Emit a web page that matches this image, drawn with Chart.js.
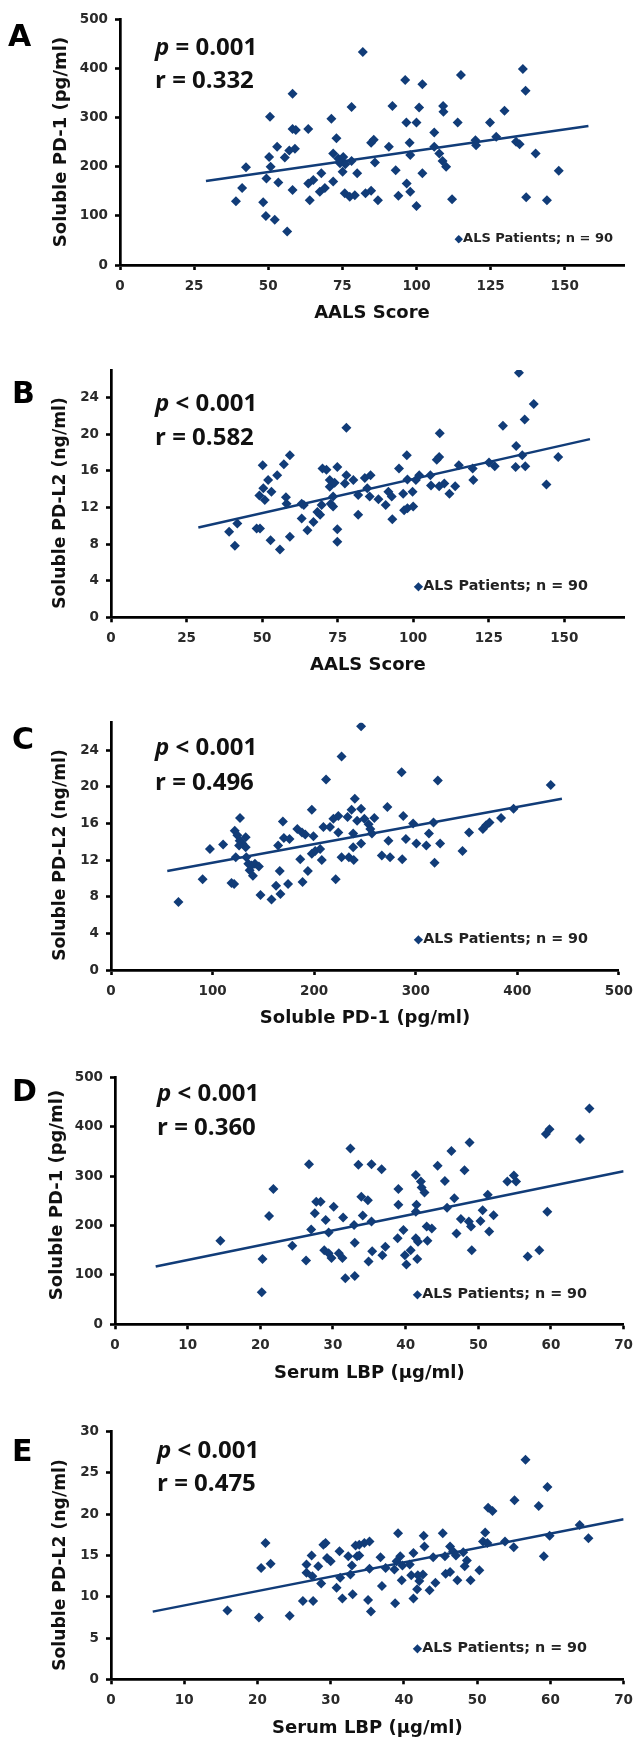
<!DOCTYPE html>
<html><head><meta charset="utf-8">
<script src="https://cdn.jsdelivr.net/npm/chart.js@4.4.1/dist/chart.umd.min.js"></script>
<style>
html,body{margin:0;padding:0;background:#fff;}
#wrap{position:relative;width:641px;height:1741px;overflow:hidden;background:#fff;}
#wrap canvas{position:absolute;left:0;}
.ov{position:absolute;white-space:nowrap;line-height:1;z-index:5;}
.letter{font-family:"DejaVu Sans";font-weight:bold;color:#000;font-size:30px;}
.stat{font-family:"Open Sans";font-weight:bold;color:#111;font-size:24px;}
.ytitle{font-family:"DejaVu Sans";font-weight:bold;color:#111;transform:translate(-50%,-50%) rotate(-90deg);}
.leg{font-family:"DejaVu Sans";font-weight:bold;color:#222;}
.leg span{color:#113c78;font-size:0.85em;}
</style></head>
<body><div id="wrap"></div>
<script>
// ---------- DATA ----------
const aX = [39.1,41.2,42.5,48.3,50.6,50.3,50.8,49.4,49.2,52.2,53,53.4,55.6,56.4,58.2,58.2,59.3,57.1,59,58.2,63.5,63.5,65.2,64,67.9,67.4,69.1,71.3,73,71.9,71.9,73.6,74.2,75.3,75.1,78.1,78.1,75.8,77.5,79.2,80,76,81.9,82.8,84.7,87,86,84.7,85.6,90.7,91.9,93,93.9,96.2,96.6,100,97.7,97.9,96.7,97.9,100,102,100.9,102,106,106,107.7,109,109.1,108.8,110,112,113.9,115,119.9,120.1,124.8,126.9,129.7,133.6,134.8,135.9,136.8,137,140.2,144,148];
const aY = [130,157,199,128,302,220,200,176,100,92,241,168,219,68,349,277,275,233,237,153,277,166,173,132,187,149,157,298,258,227,170,217,207,220,190,322,212,146,139,142,187,205,434,146,151,132,209,249,255,241,324,193,141,377,290,290,249,224,166,149,120,368,321,187,270,241,227,324,312,212,200,134,290,387,254,244,290,261,314,251,246,399,355,138,227,132,192];
const aTrendX = [29,158], aTrendY = [171,283];

const bX = [39.1,41.8,41,48.2,49.3,50.2,49.1,50.4,50.9,52,53.1,52.8,55,57.2,59.2,57.9,58.1,55.9,59.2,63.1,63.8,63.1,65,67,68.3,69.2,69.7,70,71.3,72.4,72.4,73.5,72.7,73.5,74.9,74.9,74.9,77.9,77.9,77.4,80.2,81.8,81.8,84,85.9,84.8,85.6,90.9,91.8,92.9,93.1,95.3,96.7,97,97.9,98.1,98.1,99.8,100,100.9,102,105.7,105.9,107.8,108.6,108.8,108.6,110.3,112,113.9,115.1,119.7,119.9,125.1,127,129.7,133.9,134.1,135,136.1,136.9,137.1,139.9,144.1,148,88.5,74];
const bY = [9.35,10.25,7.8,9.7,9.7,16.6,13.3,14.1,12.8,15,13.7,8.4,15.5,16.7,17.7,13.1,12.4,7.4,8.8,12.4,12.25,10.8,9.5,10.4,11.5,11.2,12.25,16.25,16.1,15,14.25,13.2,12.4,12.1,16.4,9.6,8.25,20.7,15.5,14.6,15,13.35,11.2,15.2,15.5,14.1,13.2,12.25,13.7,13.2,10.7,16.25,13.5,11.7,17.7,15.05,11.9,13.7,12.1,15,15.5,15.5,14.4,17.2,17.5,20.1,14.3,14.6,13.5,14.3,16.6,16.25,15,16.9,16.5,20.9,16.4,18.7,26.7,17.7,21.6,16.5,23.3,14.5,17.5,12.9,14.7];
const bTrendX = [28.9,158.5], bTrendY = [9.8,19.45];

const cX = [66.4,90.2,97.4,110.4,118.6,121.2,122.8,127,121.8,124.4,126.7,129.3,132.6,132.6,126.1,133.2,135.2,136.5,138.4,139.7,141.7,145.6,147.2,158,162.5,166.8,166.1,164.5,169.2,170.2,175.7,174.3,183.4,186.3,188.6,188,191.2,193.8,197.7,199.3,197.7,201,205.9,207.5,211.7,209.1,215.6,218.9,221.2,223.8,223.8,227,227,232.9,234.2,236.8,238.4,240,238.4,246.2,246.2,242.3,249.4,253.6,259.2,255.3,256.9,246.2,239,266.6,274.7,273.1,272.1,286.1,286.7,287.7,290.3,297.4,300.6,310.4,313,317.5,318.5,321.7,324,346,352.5,366.1,369.3,372.6,384,396.3,432.9];
const cY = [7.43,9.9,13.2,13.7,9.5,9.4,12.3,16.6,15.2,14.7,14.1,13.8,14.5,13.4,13.6,12.3,11.6,10.9,11.4,10.3,11.6,11.3,8.2,7.7,9.2,8.3,10.8,13.6,16.2,14.4,14.3,9.4,15.4,12.1,9.6,15,14.8,10.8,17.5,14.6,12.7,13,13.2,12,20.8,15.6,15.6,16.5,9.9,15,16.8,23.3,12.3,16.7,12.3,17.5,14.9,18.7,13.4,26.6,17.6,16.3,16.5,15.9,16.6,15.4,14.9,13.8,12.0,12.5,12.3,14.1,17.8,21.6,12.1,16.8,14.3,16,13.8,13.6,14.9,16.1,11.7,20.7,13.8,13,15,15.4,15.8,16.1,16.6,17.6,20.2];
const cTrendX = [55.4,443.9], cTrendY = [10.8,18.7];

const dX = [14.5,20.3,20.2,21.2,21.8,24.4,26.3,26.7,27,27.5,27.7,28.3,29,29.4,28.8,29.4,29.8,30.1,31.4,30.8,31.3,31.7,32.4,32.9,33,33,33.5,35.3,36.7,33.9,34.8,34.1,35.3,35.4,34.9,36.8,37.2,39,39,38.9,39.7,39.9,40.1,40.7,41.4,41.6,41.4,41.7,42.1,42.2,42.6,41.5,41.4,42.9,43,43.6,44.4,45.4,45.7,46.3,46.7,47,47.6,48.1,48.8,48.7,49,49.1,50.3,50.6,51.5,51.3,52.1,54,54.9,55.2,56.8,58.4,59.3,59.5,59.8,64,65.3];
const dY = [169,132,65,219,274,159,129,324,192,225,248,248,211,186,150,144,134,238,216,144,134,93,356,201,165,98,323,324,314,258,251,220,208,148,127,140,157,274,242,174,191,140,121,150,302,132,174,167,289,277,267,242,228,198,169,194,321,290,236,351,255,184,213,312,368,208,198,150,209,231,188,262,221,289,301,289,137,150,385,228,395,375,437];
const dTrendX = [5.6,70], dTrendY = [117,310];

const eX = [15.9,20.2,20.5,21.1,21.8,24.4,26.2,27.6,26.7,26.7,27.4,27.5,28.3,28.7,29,29.3,29.5,30,30.8,31.2,31.3,31.6,32.4,32.7,33,32.9,33.4,33.6,33.9,34.6,35.3,33.9,35.3,35.1,35.5,36.8,37,38.7,38.8,39.2,39.5,39.8,39.7,40.8,41,41.3,41.3,41.8,41.9,42.1,42.6,42.7,42.8,43.5,44.3,45.3,45.6,45.7,46.3,46.3,46.7,47.1,47.3,48.1,48.3,48.6,49.1,50.3,51.1,50.8,51.4,51.5,52.1,53.8,55,55.1,56.6,58.4,59.1,59.6,59.9,64,65.2,37.5,44,39];
const eY = [8.34,7.5,13.5,16.5,14,7.7,9.5,9.5,13.9,12.9,15,12.5,13.7,11.6,16.3,16.5,14.7,14.3,11.1,15.5,12.3,9.8,14.9,12.7,10.3,13.8,16.2,14.9,16.3,16.5,16.7,15,13.4,9.6,8.2,14.8,11.3,13.3,9.2,17.7,14.9,13.8,12,13.9,12.6,15.3,9.8,10.9,12.6,11.9,12.7,17.4,16.1,10.8,11.7,17.7,14.9,12.8,13,16.1,15.5,15,12,15.4,13.7,14.4,12,13.2,17.8,16.7,16.5,20.8,20.4,16.7,16,21.7,26.6,21,14.9,23.3,17.4,18.7,17.1,13.5,14.8,14.3];
const eTrendX = [5.7,70], eTrendY = [8.2,19.4];

const ticksAALS = [0,25,50,75,100,125,150];
const ticksPD1 = [0,100,200,300,400,500];
const ticksPDL2 = [0,4,8,12,16,20,24];
const ticksLBP = [0,10,20,30,40,50,60,70];
const ticksPDL2e = [0,5,10,15,20,25,30];

const titleAALS = 'AALS Score';
const titlePD1 = 'Soluble PD-1 (pg/ml)';
const titlePDL2 = 'Soluble PD-L2 (ng/ml)';
const titleLBP = 'Serum LBP (\u03bcg/ml)';
const legendText = 'ALS Patients; n = 90';

// ---------- LAYOUT ----------
const NAVY = '#113c78';
const panels = [
 {letter:'A', xs:aX, ys:aY, tx:aTrendX, ty:aTrendY, xMax:170, yMax:500, xt:ticksAALS, yt:ticksPD1, xTitle:titleAALS, yTitle:titlePD1,
  left:120, right:624, top:19.5, bottom:265, titleY:313, yT:{x:60,y:142,s:18}, L:{x:8,y:35}, P:{x:155,y:47,op:'='}, stat:'0.001', r:'0.332', rY:80, leg:{r:613,y:237,s:13}},
 {letter:'B', xs:bX, ys:bY, tx:bTrendX, ty:bTrendY, xMax:170, yMax:27, xt:ticksAALS, yt:ticksPDL2, xTitle:titleAALS, yTitle:titlePDL2,
  left:111, right:624.7, top:370, bottom:617.3, titleY:665, yT:{x:60,y:502.5,s:17.2}, L:{x:12,y:392}, P:{x:155,y:403,op:'<'}, stat:'0.001', r:'0.582', rY:437, leg:{r:588,y:585,s:14.3}},
 {letter:'C', xs:cX, ys:cY, tx:cTrendX, ty:cTrendY, xMax:500, yMax:27, xt:ticksPD1, yt:ticksPDL2, xTitle:titlePD1, yTitle:titlePDL2,
  left:111, right:625, top:722.7, bottom:970, titleY:1018, yT:{x:60,y:855,s:17.2}, L:{x:12,y:738}, P:{x:155,y:747,op:'<'}, stat:'0.001', r:'0.496', rY:782, leg:{r:588,y:938,s:14.3}},
 {letter:'D', xs:dX, ys:dY, tx:dTrendX, ty:dTrendY, xMax:70, yMax:500, xt:ticksLBP, yt:ticksPD1, xTitle:titleLBP, yTitle:titlePD1,
  left:115, right:626.7, top:1077.3, bottom:1324.3, titleY:1373, yT:{x:56,y:1195,s:18}, L:{x:12,y:1090}, P:{x:157,y:1093,op:'<'}, stat:'0.001', r:'0.360', rY:1127, leg:{r:587,y:1292.7,s:14.3}},
 {letter:'E', xs:eX, ys:eY, tx:eTrendX, ty:eTrendY, xMax:70, yMax:30, xt:ticksLBP, yt:ticksPDL2e, xTitle:titleLBP, yTitle:titlePDL2,
  left:111, right:624, top:1431.7, bottom:1679.3, titleY:1728, yT:{x:60,y:1565,s:17.2}, L:{x:12,y:1450}, P:{x:157,y:1450,op:'<'}, stat:'0.001', r:'0.475', rY:1483, leg:{r:587,y:1647,s:14.3}}
];

const wrap = document.getElementById('wrap');
const tickFont = {family:'DejaVu Sans', weight:'bold', size:13.5};
const titleSize = 18, titleLH = 1.2;

function addOv(cls, html, style){
  const d = document.createElement('div');
  d.className = 'ov ' + cls;
  d.innerHTML = html;
  Object.assign(d.style, style);
  wrap.appendChild(d);
}

panels.forEach(p => {
  const T = Math.floor(p.top - 25);
  const B = Math.min(1741, Math.ceil(p.titleY + 12));
  const H = B - T;
  const cv = document.createElement('canvas');
  cv.width = 641; cv.height = H;
  cv.style.top = T + 'px'; cv.style.width = '641px'; cv.style.height = H + 'px';
  wrap.appendChild(cv);
  const xScaleBottom = p.titleY + titleSize*titleLH/2;
  new Chart(cv.getContext('2d'), {
    type:'scatter',
    data:{datasets:[
      {data:p.xs.map((x,i)=>({x:x, y:p.ys[i]})), pointStyle:'rectRot', pointRadius:5, pointHoverRadius:5,
       backgroundColor:NAVY, borderColor:NAVY, borderWidth:0},
      {data:p.tx.map((x,i)=>({x:x, y:p.ty[i]})), showLine:true, borderColor:NAVY, borderWidth:2.5,
       pointRadius:0, pointHoverRadius:0, fill:false}
    ]},
    options:{
      responsive:false, animation:false, devicePixelRatio:1, events:[],
      layout:{padding:{top:p.top - T, left:0, right:641 - p.right, bottom:Math.max(0, B - xScaleBottom)}},
      plugins:{legend:{display:false}, tooltip:{enabled:false}},
      scales:{
        x:{type:'linear', min:0, max:p.xMax,
           afterBuildTicks:s=>{s.ticks = p.xt.map(v=>({value:v}));},
           afterFit:s=>{s.height = xScaleBottom - p.bottom;},
           grid:{display:true, drawOnChartArea:false, drawTicks:true, tickLength:5, tickWidth:2.6, tickColor:'#000'},
           border:{display:true, color:'#000', width:2.7},
           ticks:{font:tickFont, color:'#2a2a2a', padding:8, maxRotation:0, autoSkip:false},
           title:{display:true, text:p.xTitle, color:'#111', padding:0,
                  font:{family:'DejaVu Sans', weight:'bold', size:titleSize, lineHeight:titleLH}}},
        y:{type:'linear', min:0, max:p.yMax,
           afterBuildTicks:s=>{s.ticks = p.yt.map(v=>({value:v}));},
           afterFit:s=>{s.width = p.left;},
           grid:{display:true, drawOnChartArea:false, drawTicks:true, tickLength:5, tickWidth:2.6, tickColor:'#000'},
           border:{display:true, color:'#000', width:2.7},
           ticks:{font:tickFont, color:'#2a2a2a', padding:7, autoSkip:false},
           title:{display:false}}
      }
    }
  });
  addOv('letter', p.letter, {left:p.L.x+'px', top:(p.L.y - 0.48*30)+'px'});
  addOv('stat', '<i>p</i> ' + (p.P.op === '<' ? '&lt;' : '=') + ' ' + p.stat, {left:p.P.x+'px', top:(p.P.y - 0.53*24)+'px'});
  addOv('stat', 'r = ' + p.r, {left:p.P.x+'px', top:(p.rY - 0.53*24)+'px'});
  addOv('ytitle', p.yTitle, {left:p.yT.x+'px', top:p.yT.y+'px', fontSize:p.yT.s+'px'});
  addOv('leg', '<span>\u25C6</span>' + legendText, {right:(641 - p.leg.r)+'px', top:(p.leg.y - 0.48*p.leg.s)+'px', fontSize:p.leg.s+'px'});
});
</script>
</body></html>
